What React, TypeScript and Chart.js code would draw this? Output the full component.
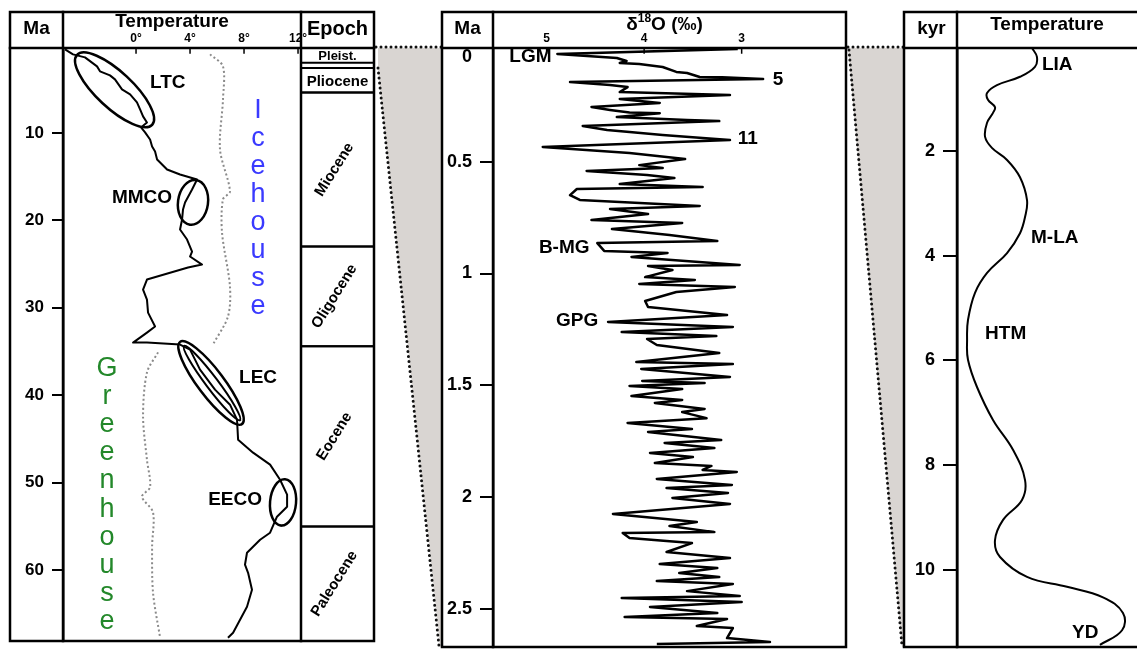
import React, { useEffect, useRef } from 'react';
import { Chart, registerables } from 'chart.js';
Chart.register(...registerables);

const W = 1137;
const H = 649;
const FONT = '"Liberation Sans", Arial, Helvetica, sans-serif';

// ---------------- Left panel: Cenozoic temperature ----------------
const LEFT_MA = [0.46, 1.03, 1.37, 2.4, 2.97, 3.43, 3.89, 5.03, 5.6, 6.52, 7.32, 8.12, 8.81, 9.38, 9.95, 10.76, 11.56, 12.13, 13.04, 14.19, 14.76, 15.33, 16.48, 17.96, 18.76, 19.91, 21.05, 22.2, 23.57, 24.14, 25.06, 25.4, 26.77, 27.92, 29.06, 30.55, 32.15, 32.84, 33.98, 33.98, 34.21, 34.78, 37.07, 39.36, 41.08, 42.79, 45.08, 46.57, 47.94, 49.66, 51.37, 52.75, 53.89, 55.72, 56.52, 58.01, 59.38, 60.3, 62.24, 64.19, 67.16, 67.73];
const LEFT_TEMP = [-5.26, -4.67, -3.78, -2.89, -2.67, -1.93, -1.56, -1.04, -0.44, 0.07, 0.3, 0.52, 0.81, 0.37, 0.67, 1.04, 1.19, 1.41, 1.56, 2.3, 3.26, 4.52, 4.15, 3.63, 3.48, 3.41, 3.26, 3.78, 4.15, 4.0, 4.89, 3.85, 0.81, 0.52, 0.81, 0.89, 1.41, 0.81, -0.22, 0.81, 3.26, 4.0, 4.74, 5.85, 6.96, 7.48, 7.56, 8.67, 9.93, 10.67, 11.19, 11.19, 10.44, 9.93, 9.19, 8.22, 8.07, 8.3, 8.59, 8.22, 7.19, 6.81];
const ICE_MA = [1.03, 2.4, 6.18, 11.9, 16.7, 17.6, 21.4, 27.6, 31.0, 34.2];
const ICE_TEMP = [5.48, 6.44, 6.44, 6.22, 6.96, 6.44, 6.37, 6.96, 6.81, 5.7];
const GREEN_MA = [35.1, 37.4, 42.4, 47.4, 50.5, 51.6, 53.4, 57.3, 62.6, 67.7];
const GREEN_TEMP = [1.63, 0.81, 0.52, 0.81, 1.04, 0.44, 1.26, 1.19, 1.26, 1.78];
const LEFT_MA_TICKS = [10, 20, 30, 40, 50, 60];
const LEFT_TEMP_TICKS = [0, 4, 8, 12];
const EPOCH_NAMES = ['Pleist.', 'Pliocene', 'Miocene', 'Oligocene', 'Eocene', 'Paleocene'];
const EPOCH_START = [0, 2.6, 5.4, 23.0, 34.4, 55.0];
const EPOCH_END = [2.0, 5.4, 23.0, 34.4, 55.0, 70];
const EVENT_NAMES = ['LTC', 'MMCO', 'LEC', 'EECO'];
const EVENT_TEMP = [1.04, 2.67, 7.63, 9.33];
const EVENT_MA = [4.28, 17.4, 38.0, 51.9];
const ELLIPSE_T1 = [-4.37, 4.44, 3.26, 11.04];
const ELLIPSE_MA1 = [1.08, 15.4, 33.9, 49.6];
const ELLIPSE_T2 = [1.19, 4.0, 7.85, 10.74];
const ELLIPSE_MA2 = [9.08, 20.5, 43.3, 54.9];
const ICE_WORD = 'Icehouse';
const GREEN_WORD = 'Greenhouse';
const ICE_POS = [9.04, 7.4];
const GREEN_POS = [-2.15, 36.9];

// ---------------- Middle panel: benthic d18O ----------------
const D18O = [
  3.04, 4.89, 4.28, 4.18, 4.25, 4.05, 3.81, 3.67, 3.56, 3.43,
  3.2, 2.78, 4.76, 4.35, 4.17, 4.25, 3.12, 4.25, 3.84, 4.54,
  4.35, 4.15, 3.84, 4.28, 3.56, 3.23, 4.63, 4.38, 4.15, 3.81,
  3.4, 3.12, 5.04, 4.15, 3.58, 4.05, 3.81, 4.59, 3.97, 3.69,
  4.25, 3.4, 4.69, 4.76, 4.66, 3.43, 4.35, 3.96, 4.54, 3.61,
  4.33, 3.74, 3.25, 4.48, 4.41, 3.76, 4.13, 3.02, 3.96, 3.71,
  3.99, 3.48, 4.05, 3.07, 3.67, 3.99, 3.96, 3.15, 4.37, 3.09,
  4.23, 3.26, 3.97, 3.87, 3.23, 4.08, 3.09, 4.03, 3.12, 4.02,
  3.38, 4.15, 3.61, 4.13, 3.61, 3.89, 3.38, 3.61, 3.36, 4.17,
  3.51, 3.96, 3.21, 3.79, 3.28, 3.94, 3.5, 3.89, 3.31, 3.4,
  3.05, 3.87, 3.1, 3.77, 3.14, 3.71, 3.12, 4.32, 3.46, 3.74,
  3.28, 4.22, 4.15, 3.77, 3.51, 3.77, 3.12, 3.84, 3.25, 3.64,
  3.23, 3.87, 3.09, 3.56, 3.02, 4.23, 3.0, 3.94, 3.25, 4.2,
  3.15, 3.46, 3.09, 3.15, 2.71, 3.87,
];
const D18O_MA = [
  -0.005, 0.018, 0.036, 0.049, 0.058, 0.063, 0.076, 0.098, 0.103, 0.121,
  0.122, 0.13, 0.143, 0.157, 0.166, 0.188, 0.201, 0.219, 0.237, 0.255,
  0.268, 0.28, 0.283, 0.3, 0.313, 0.318, 0.34, 0.358, 0.367, 0.38,
  0.394, 0.403, 0.434, 0.461, 0.488, 0.515, 0.528, 0.541, 0.559, 0.573,
  0.6, 0.613, 0.622, 0.649, 0.671, 0.698, 0.711, 0.734, 0.761, 0.774,
  0.801, 0.828, 0.855, 0.864, 0.899, 0.908, 0.926, 0.962, 0.966, 0.984,
  1.016, 1.029, 1.047, 1.06, 1.083, 1.123, 1.15, 1.186, 1.217, 1.239,
  1.262, 1.28, 1.293, 1.32, 1.356, 1.396, 1.405, 1.427, 1.463, 1.481,
  1.49, 1.503, 1.517, 1.548, 1.566, 1.579, 1.606, 1.62, 1.647, 1.669,
  1.696, 1.709, 1.745, 1.758, 1.781, 1.803, 1.821, 1.848, 1.861, 1.879,
  1.888, 1.919, 1.946, 1.96, 1.982, 2.004, 2.031, 2.076, 2.112, 2.13,
  2.157, 2.161, 2.183, 2.197, 2.206, 2.246, 2.273, 2.3, 2.318, 2.34,
  2.358, 2.376, 2.389, 2.421, 2.443, 2.452, 2.47, 2.492, 2.519, 2.537,
  2.546, 2.577, 2.586, 2.631, 2.649, 2.658,
];
const MID_MA_TICKS = [0, 0.5, 1, 1.5, 2, 2.5];
const MID_D18O_TICKS = [5, 4, 3];
const MID_LABELS = ['LGM', '5', '11', 'B-MG', 'GPG'];
const MID_LABEL_D18O = [4.95, 2.68, 3.04, 4.56, 4.47];
const MID_LABEL_MA = [0.031, 0.134, 0.398, 0.886, 1.212];

// ---------------- Right panel: Holocene temperature ----------------
const RIGHT_KYR = [0.03, 0.2, 0.39, 0.58, 0.74, 0.89, 1.02, 1.16, 1.27, 1.46, 1.73, 1.94, 2.17, 2.5, 2.94, 3.26, 3.57, 3.95, 4.33, 4.71, 5.23, 5.61, 5.99, 6.51, 7.14, 7.71, 8.29, 8.67, 9.05, 9.44, 9.76, 10.14, 10.33, 10.53, 10.83, 11.16, 11.44];
const RIGHT_TEMP = [4.17, 4.44, 4.33, 3.5, 2.22, 1.67, 1.72, 2.11, 2.0, 1.67, 1.56, 1.94, 2.78, 3.5, 3.89, 3.78, 3.5, 2.78, 1.67, 1.0, 0.61, 0.56, 0.61, 1.11, 2.0, 3.11, 3.78, 3.61, 2.56, 2.11, 2.39, 3.89, 6.11, 8.11, 9.22, 9.17, 7.94];
const RIGHT_KYR_TICKS = [2, 4, 6, 8, 10];
const RIGHT_LABELS = ['LIA', 'M-LA', 'HTM', 'YD'];
const RIGHT_LABEL_T = [4.72, 4.11, 1.56, 6.39];
const RIGHT_LABEL_KYR = [0.35, 3.66, 5.5, 11.21];

// ---------------- layout / style ----------------
const FRAME_TOP = 12;
const EPOCH_COL_W = 73;
const RIGHT_FRAME_LEFT = 904;
const ELLIPSE_HALF_W = [18, 15, 13, 13];
const GRAY = '#d9d5d2';

function line(ctx: any, x1: number, y1: number, x2: number, y2: number) {
  ctx.beginPath();
  ctx.moveTo(x1, y1);
  ctx.lineTo(x2, y2);
  ctx.stroke();
}
function txt(ctx: any, s: string, x: number, y: number, size: number, align = 'center', weight = 'bold', color = '#000') {
  ctx.font = `${weight} ${size}px ${FONT}`;
  ctx.fillStyle = color;
  ctx.textAlign = align;
  ctx.textBaseline = 'middle';
  ctx.fillText(s, x, y);
}
function pts(xs: number[], ys: number[]) {
  return xs.map((v, i) => ({ x: v, y: ys[i] }));
}
function drawFrame(ctx: any, L: number, R: number, ca: any, B: number) {
  ctx.strokeStyle = '#000';
  ctx.lineWidth = 2.5;
  ctx.lineCap = 'square';
  ctx.setLineDash([]);
  ctx.strokeRect(L, FRAME_TOP, R - L, B - FRAME_TOP);
  line(ctx, L, ca.top, R, ca.top);
  line(ctx, ca.left, FRAME_TOP, ca.left, B);
}
function innerTicks(ctx: any, xs: any, ticks: number[], top: number) {
  ctx.lineWidth = 1.5;
  ticks.forEach((t) => {
    const px = xs.getPixelForValue(t);
    line(ctx, px, top, px, top + 5);
  });
}
function zeroPad(s: any) {
  s.paddingTop = 0;
  s.paddingBottom = 0;
  s.paddingLeft = 0;
  s.paddingRight = 0;
}

function yScale(min: number, max: number, ticks: number[], width: number, tickLen: number, size: number, hideZero = false) {
  return {
    type: 'linear',
    position: 'left',
    reverse: true,
    min,
    max,
    afterBuildTicks: (s: any) => {
      s.ticks = ticks.map((v) => ({ value: v }));
    },
    afterFit: (s: any) => {
      s.width = width;
      zeroPad(s);
    },
    grid: {
      display: true,
      drawOnChartArea: false,
      drawTicks: true,
      tickLength: tickLen,
      lineWidth: 2,
      color: (c: any) => (hideZero && c.tick && c.tick.value === 0 ? 'rgba(0,0,0,0)' : '#000'),
    },
    border: { display: true, color: '#000', width: 2.5 },
    ticks: {
      color: '#000',
      padding: 8,
      autoSkip: false,
      font: { family: FONT, size, weight: 'bold' },
      callback: (v: any) => (hideZero && v === 0 ? '' : String(v)),
    },
  };
}
function xTop(min: number, max: number, ticks: number[], reverse: boolean, suffix: string) {
  return {
    type: 'linear',
    position: 'top',
    min,
    max,
    reverse,
    afterBuildTicks: (s: any) => {
      s.ticks = ticks.map((v) => ({ value: v }));
    },
    afterFit: (s: any) => {
      s.height = 36;
      zeroPad(s);
    },
    grid: { display: false, drawTicks: false },
    border: { display: false },
    ticks: {
      color: '#000',
      padding: 2,
      autoSkip: false,
      maxRotation: 0,
      font: { family: FONT, size: 12, weight: 'bold' },
      callback: (v: any) => String(v) + suffix,
    },
  };
}
function baseOptions(padding: any) {
  return {
    responsive: false,
    animation: false,
    events: [],
    layout: { padding },
    plugins: { legend: { display: false }, tooltip: { enabled: false } },
  };
}

const leftPlugin = {
  id: 'leftPanel',
  afterDraw(chart: any) {
    const { ctx, chartArea: ca } = chart;
    const xs = chart.scales.x;
    const ys = chart.scales.y;
    const L = ys.left;
    const R = ca.right + EPOCH_COL_W;
    const B = ca.bottom;
    ctx.save();
    drawFrame(ctx, L, R, ca, B);
    line(ctx, ca.right, FRAME_TOP, ca.right, B);
    // epochs
    ctx.lineWidth = 2;
    EPOCH_NAMES.forEach((name, i) => {
      const y1 = Math.max(ca.top, ys.getPixelForValue(EPOCH_START[i]));
      const y2 = Math.min(B, ys.getPixelForValue(EPOCH_END[i]));
      if (y1 > ca.top + 1) line(ctx, ca.right, y1, R, y1);
      if (y2 < B - 1) line(ctx, ca.right, y2, R, y2);
      const cx = (ca.right + R) / 2;
      const cy = (y1 + y2) / 2;
      if (y2 - y1 > 60) {
        ctx.save();
        ctx.translate(cx - 3, cy);
        ctx.rotate((-58 * Math.PI) / 180);
        txt(ctx, name, 0, 0, 15);
        ctx.restore();
      } else {
        txt(ctx, name, cx, cy + 1, y2 - y1 < 20 ? 13 : 15);
      }
    });
    innerTicks(ctx, xs, LEFT_TEMP_TICKS, ca.top);
    // header
    txt(ctx, 'Ma', (L + ca.left) / 2, 29, 19);
    txt(ctx, 'Temperature', (ca.left + ca.right) / 2 - 10, 22, 19);
    txt(ctx, 'Epoch', (ca.right + R) / 2, 29, 20);
    // ellipses
    ctx.lineWidth = 2.5;
    ELLIPSE_T1.forEach((t1, i) => {
      const x1 = xs.getPixelForValue(t1);
      const y1 = ys.getPixelForValue(ELLIPSE_MA1[i]);
      const x2 = xs.getPixelForValue(ELLIPSE_T2[i]);
      const y2 = ys.getPixelForValue(ELLIPSE_MA2[i]);
      const cx = (x1 + x2) / 2;
      const cy = (y1 + y2) / 2;
      const a = Math.hypot(x2 - x1, y2 - y1) / 2;
      const ang = Math.atan2(y2 - y1, x2 - x1);
      ctx.beginPath();
      ctx.ellipse(cx, cy, a, ELLIPSE_HALF_W[i], ang, 0, Math.PI * 2);
      ctx.stroke();
      if (EVENT_NAMES[i] === 'LEC') {
        ctx.lineWidth = 2;
        ctx.beginPath();
        ctx.ellipse(cx + 1, cy, a - 5, 6, ang, 0, Math.PI * 2);
        ctx.stroke();
        ctx.lineWidth = 2.5;
      }
    });
    EVENT_NAMES.forEach((n, i) => {
      const align = i % 2 === 0 ? 'left' : 'right';
      txt(ctx, n, xs.getPixelForValue(EVENT_TEMP[i]), ys.getPixelForValue(EVENT_MA[i]), 19, align);
    });
    // Icehouse / Greenhouse
    const ix = xs.getPixelForValue(ICE_POS[0]);
    const iy = ys.getPixelForValue(ICE_POS[1]);
    ICE_WORD.split('').forEach((ch, i) => txt(ctx, ch, ix, iy + i * 28.1, 27, 'center', 'normal', '#3a3aff'));
    const gx = xs.getPixelForValue(GREEN_POS[0]);
    const gy = ys.getPixelForValue(GREEN_POS[1]);
    GREEN_WORD.split('').forEach((ch, i) => txt(ctx, ch, gx, gy + i * 28.2, 27, 'center', 'normal', '#23882a'));
    ctx.restore();
  },
};

function makeMidPlugin(leftChart: any, rightChart: any) {
  return {
    id: 'midPanel',
    beforeDraw(chart: any) {
      const { ctx, chartArea: ca } = chart;
      const ys = chart.scales.y;
      const lca = leftChart.chartArea;
      const lx = lca.right + EPOCH_COL_W + 4;
      const ly = leftChart.scales.y.getPixelForValue(EPOCH_START[1]);
      const mx = ys.left;
      const rx = ca.right + 2;
      const rr = rightChart.scales.y.left;
      const rb = rightChart.chartArea.bottom;
      ctx.save();
      ctx.fillStyle = GRAY;
      ctx.beginPath();
      ctx.moveTo(lx, ca.top);
      ctx.lineTo(mx, ca.top);
      ctx.lineTo(mx, ca.bottom);
      ctx.lineTo(mx - 2, ca.bottom);
      ctx.lineTo(lx, ly);
      ctx.closePath();
      ctx.fill();
      ctx.beginPath();
      ctx.moveTo(rx, ca.top);
      ctx.lineTo(rr, ca.top);
      ctx.lineTo(rr, rb);
      ctx.lineTo(rr - 2, rb);
      ctx.closePath();
      ctx.fill();
      ctx.strokeStyle = '#111';
      ctx.lineWidth = 3;
      ctx.lineCap = 'round';
      ctx.setLineDash([0, 5]);
      line(ctx, lx - 2, ca.top - 1, mx, ca.top - 1);
      line(ctx, lx, ly, mx - 3, ca.bottom - 1);
      line(ctx, rx, ca.top - 1, rr, ca.top - 1);
      line(ctx, rx + 1, ca.top + 2, rr - 2, rb - 1);
      ctx.restore();
    },
    afterDraw(chart: any) {
      const { ctx, chartArea: ca } = chart;
      const xs = chart.scales.x;
      const ys = chart.scales.y;
      const L = ys.left;
      const R = ca.right;
      ctx.save();
      drawFrame(ctx, L, R, ca, ca.bottom);
      innerTicks(ctx, xs, MID_D18O_TICKS, ca.top);
      txt(ctx, 'Ma', (L + ca.left) / 2, 29, 19);
      // δ18O (‰) title
      const cx = (ca.left + ca.right) / 2 - 5;
      const cy = 25;
      ctx.font = `bold 19px ${FONT}`;
      const wd = ctx.measureText('δ').width;
      const wo = ctx.measureText('O (‰)').width;
      ctx.font = `bold 12px ${FONT}`;
      const w18 = ctx.measureText('18').width;
      const x0 = cx - (wd + w18 + wo) / 2;
      txt(ctx, 'δ', x0, cy, 19, 'left');
      txt(ctx, '18', x0 + wd, cy - 6, 12, 'left');
      txt(ctx, 'O (‰)', x0 + wd + w18, cy, 19, 'left');
      // zero label below the header line
      txt(ctx, '0', ca.left - 21, ys.getPixelForValue(0) + 7, 18, 'right');
      MID_LABELS.forEach((n, i) => {
        const align = i === 1 || i === 2 ? 'left' : 'right';
        txt(ctx, n, xs.getPixelForValue(MID_LABEL_D18O[i]), ys.getPixelForValue(MID_LABEL_MA[i]), 19, align);
      });
      ctx.restore();
    },
  };
}

const rightPlugin = {
  id: 'rightPanel',
  afterDraw(chart: any) {
    const { ctx, chartArea: ca } = chart;
    const xs = chart.scales.x;
    const ys = chart.scales.y;
    const L = ys.left;
    ctx.save();
    drawFrame(ctx, L, W + 10, ca, ca.bottom);
    txt(ctx, 'kyr', (L + ca.left) / 2 + 1, 29, 19);
    txt(ctx, 'Temperature', (ca.left + ca.right) / 2, 25, 19);
    RIGHT_LABELS.forEach((n, i) => {
      txt(ctx, n, xs.getPixelForValue(RIGHT_LABEL_T[i]), ys.getPixelForValue(RIGHT_LABEL_KYR[i]), 19, 'left');
    });
    ctx.restore();
  },
};

export default function App() {
  const c1 = useRef<HTMLCanvasElement>(null);
  const c2 = useRef<HTMLCanvasElement>(null);
  const c3 = useRef<HTMLCanvasElement>(null);

  useEffect(() => {
    const left = new Chart(c1.current as any, {
      type: 'scatter',
      data: {
        datasets: [
          { data: pts(LEFT_TEMP, LEFT_MA), showLine: true, borderColor: '#000', borderWidth: 2, pointRadius: 0, borderJoinStyle: 'round' },
          { data: pts(ICE_TEMP, ICE_MA), showLine: true, borderColor: '#8a8a8a', borderWidth: 2, borderDash: [2, 2.5], pointRadius: 0, tension: 0.3 },
          { data: pts(GREEN_TEMP, GREEN_MA), showLine: true, borderColor: '#8a8a8a', borderWidth: 2, borderDash: [2, 2.5], pointRadius: 0, tension: 0.3 },
        ],
      },
      options: {
        ...baseOptions({ left: 10, top: 12, right: W - 301, bottom: H - 641 }),
        scales: {
          x: xTop(-5.41, 12.22, LEFT_TEMP_TICKS, false, '°'),
          y: yScale(0.3, 68.1, LEFT_MA_TICKS, 53, 11, 17),
        },
      } as any,
      plugins: [leftPlugin],
    } as any);

    const right = new Chart(c3.current as any, {
      type: 'scatter',
      data: {
        datasets: [
          { data: pts(RIGHT_TEMP, RIGHT_KYR), showLine: true, borderColor: '#000', borderWidth: 2, pointRadius: 0, tension: 0.4 },
        ],
      },
      options: {
        ...baseOptions({ left: RIGHT_FRAME_LEFT, top: 48, right: 0, bottom: H - 647 }),
        scales: {
          x: { type: 'linear', display: false, min: 0, max: 10 },
          y: yScale(0.03, 11.48, RIGHT_KYR_TICKS, 53, 14, 18),
        },
      } as any,
      plugins: [rightPlugin],
    } as any);

    const mid = new Chart(c2.current as any, {
      type: 'scatter',
      data: {
        datasets: [
          { data: pts(D18O, D18O_MA), showLine: true, borderColor: '#000', borderWidth: 2.5, pointRadius: 0, borderJoinStyle: 'round' },
        ],
      },
      options: {
        ...baseOptions({ left: 442, top: 12, right: W - 846, bottom: H - 647 }),
        scales: {
          x: xTop(1.93, 5.55, MID_D18O_TICKS, true, ''),
          y: yScale(-0.009, 2.671, MID_MA_TICKS, 51, 13, 18, true),
        },
      } as any,
      plugins: [makeMidPlugin(left, right)],
    } as any);

    return () => {
      left.destroy();
      mid.destroy();
      right.destroy();
    };
  }, []);

  const cs: any = { position: 'absolute', left: 0, top: 0, width: W, height: H };
  return (
    <div style={{ position: 'absolute', left: 0, top: 0, width: W, height: H, background: '#fff', overflow: 'hidden' }}>
      <canvas ref={c1} width={W} height={H} style={cs} />
      <canvas ref={c2} width={W} height={H} style={cs} />
      <canvas ref={c3} width={W} height={H} style={cs} />
    </div>
  );
}
